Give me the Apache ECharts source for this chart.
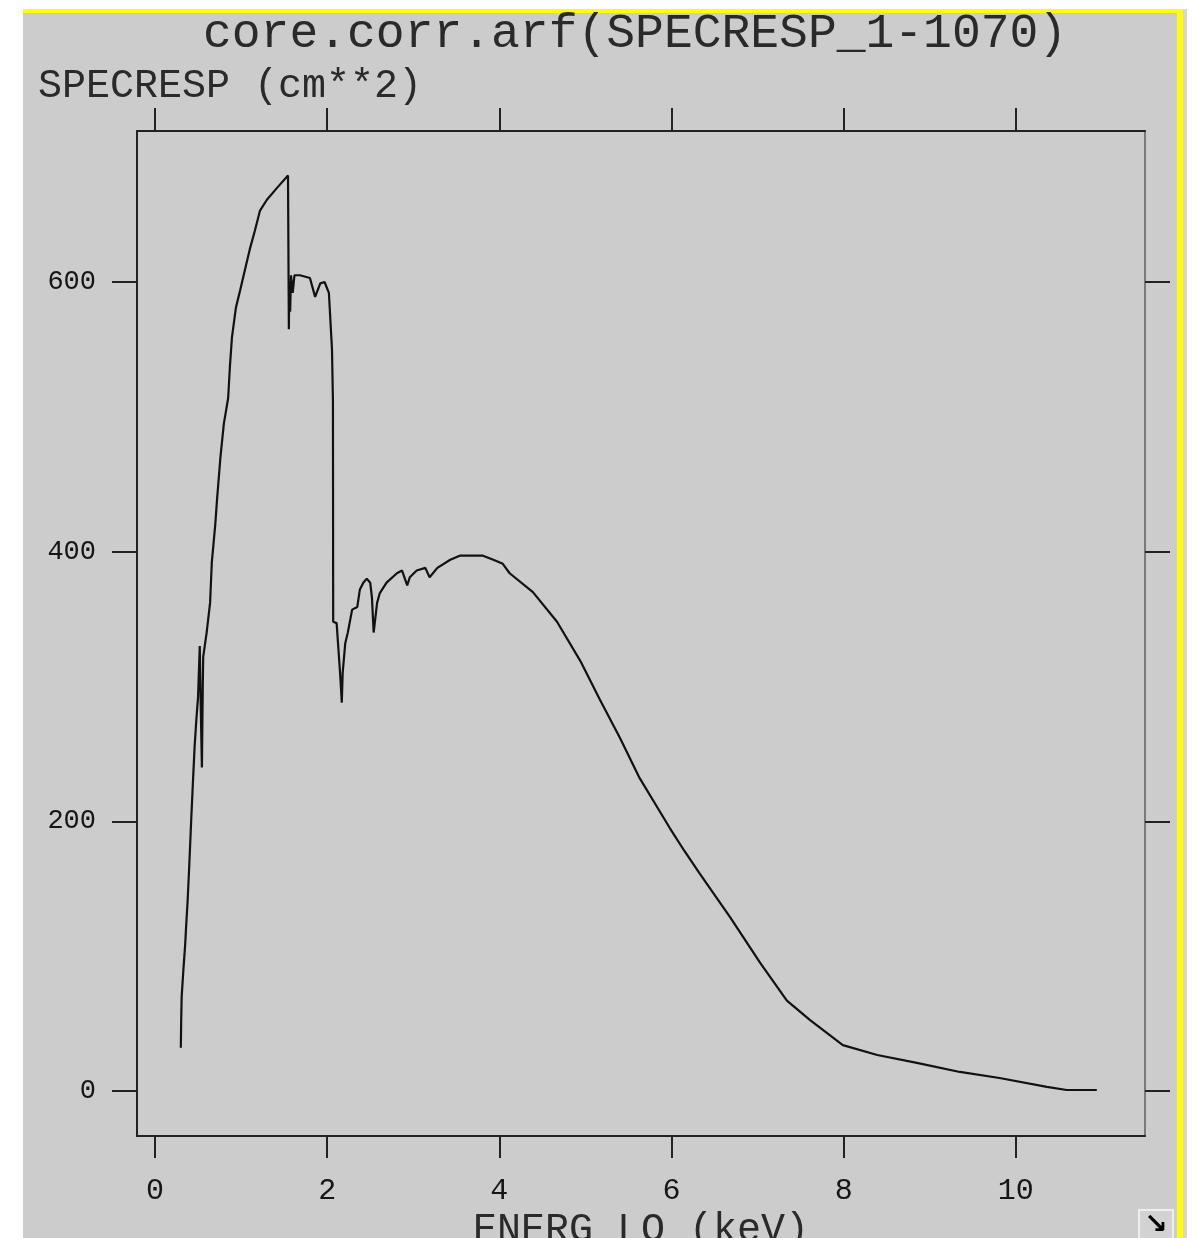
<!DOCTYPE html>
<html>
<head>
<meta charset="utf-8">
<title>core.corr.arf</title>
<script src="https://cdn.jsdelivr.net/npm/echarts@6/dist/echarts.min.js"></script>
<style>
  html, body { margin: 0; padding: 0; background: #ffffff; }
  #chart { width: 1198px; height: 1238px; }
</style>
</head>
<body>
<div id="chart"></div>
<script>
// Effective area curve: energy (keV) vs SPECRESP (cm**2)
const energy = [
  0.30, 0.305, 0.31, 0.33, 0.35, 0.36, 0.38, 0.40, 0.42, 0.44, 0.46, 0.48, 0.50,
  0.52, 0.53, 0.545, 0.555, 0.56, 0.60, 0.64, 0.66, 0.70, 0.72, 0.76, 0.80, 0.85,
  0.87, 0.894, 0.94, 0.99, 1.045, 1.10, 1.16, 1.22, 1.30, 1.42, 1.545, 1.55,
  1.555, 1.56, 1.57, 1.58, 1.60, 1.62, 1.684, 1.80, 1.86, 1.92, 1.97, 2.02,
  2.056, 2.067, 2.07, 2.11, 2.125, 2.15, 2.17, 2.18, 2.21, 2.24, 2.29, 2.35,
  2.38, 2.42, 2.46, 2.50, 2.52, 2.54, 2.58, 2.61, 2.69, 2.81, 2.87, 2.93, 2.96,
  3.04, 3.14, 3.19, 3.28, 3.43, 3.54, 3.81, 3.93, 4.04, 4.12, 4.39, 4.67, 4.94,
  5.17, 5.40, 5.63, 5.98, 6.15, 6.33, 6.68, 7.03, 7.34, 7.61, 7.99, 8.39, 8.85,
  9.35, 9.81, 10.36, 10.59, 10.94
];
const specresp = [
  32, 55, 70, 90, 108, 120, 142, 170, 200, 228, 255, 275, 292,
  330, 290, 240, 300, 322, 340, 362, 392, 420, 438, 470, 495, 514,
  537, 559, 581, 594, 609, 624, 638, 653, 661, 670, 679, 680,
  565, 600, 578, 605, 592, 605, 605, 603, 589, 599, 600, 592,
  550, 512, 348, 347, 333, 310, 288, 310, 332, 340, 357, 359,
  372, 377, 380, 377, 366, 340, 362, 369, 377, 384, 386, 375, 381,
  386, 388, 381, 388, 394, 397, 397, 394, 391, 384, 370, 348, 319,
  290, 262, 232, 195, 178, 161, 129, 95, 67, 52.5, 34, 26.7, 20.8,
  14.1, 9.6, 3, 0.7, 0.7
];

const xTicks = [0, 2, 4, 6, 8, 10];
const yTicks = [0, 200, 400, 600];

const titleText = 'core.corr.arf(SPECRESP_1-1070)';
const yTitle = 'SPECRESP (cm**2)';
const xTitle = 'ENERG_LO (keV)';

const MONO = '"Liberation Mono", "DejaVu Sans Mono", monospace';
const INK = '#151515';

const points = energy.map((e, i) => [e, specresp[i]]);

const chart = echarts.init(document.getElementById('chart'), null, { renderer: 'canvas' });

const xRange = { min: -0.209, max: 11.5 };
const yRange = { min: -33.4, max: 712 };

chart.setOption({
  backgroundColor: '#ffffff',
  animation: false,
  graphic: [
    { type: 'rect', z: -10, shape: { x: 23, y: 13, width: 1154, height: 1225 }, style: { fill: '#cccccc' } },
    { type: 'rect', z: -9, shape: { x: 23, y: 9, width: 1160, height: 4 }, style: { fill: '#ffff00' } },
    { type: 'rect', z: -9, shape: { x: 1177, y: 9, width: 6, height: 1229 }, style: { fill: '#ffff00' } },
    { type: 'rect', z: -9, shape: { x: 1183, y: 9, width: 4, height: 1229 }, style: { fill: '#d6d6d6' } },
    {
      type: 'group', left: 1138, top: 1209, z: 5,
      children: [
        { type: 'rect', shape: { x: 0, y: 0, width: 34, height: 30 }, style: { fill: '#d2d2d2', stroke: '#eeeeee', lineWidth: 2 } },
        { type: 'text', x: 17, y: 16, style: { text: '\u2198', fill: '#000', font: 'bold 28px "DejaVu Sans"', align: 'center', verticalAlign: 'middle' } }
      ]
    }
  ],
  title: [
    {
      text: titleText, left: 203, top: 10, padding: 0,
      textStyle: { fontFamily: MONO, fontSize: 48, fontWeight: 'normal', color: '#2a2a2a' }
    },
    {
      text: yTitle, left: 38, top: 66, padding: 0,
      textStyle: { fontFamily: MONO, fontSize: 40, fontWeight: 'normal', color: '#2a2a2a' }
    }
  ],
  grid: { left: 137, top: 131, width: 1008, height: 1005, show: false, containLabel: false, outerBoundsMode: 'none' },
  xAxis: [
    {
      type: 'value', position: 'bottom', min: xRange.min, max: xRange.max,
      axisLine: { show: true, onZero: false, lineStyle: { color: '#222', width: 2 } },
      axisTick: { show: true, customValues: xTicks, length: 22, lineStyle: { color: '#222', width: 2 } },
      axisLabel: { customValues: xTicks, margin: 40, fontFamily: MONO, fontSize: 30, color: INK },
      splitLine: { show: false },
      name: xTitle, nameLocation: 'middle', nameGap: 72,
      nameTextStyle: { fontFamily: MONO, fontSize: 40, color: '#2a2a2a' }
    },
    {
      type: 'value', position: 'top', min: xRange.min, max: xRange.max,
      axisLine: { show: true, onZero: false, lineStyle: { color: '#222', width: 2 } },
      axisTick: { show: true, customValues: xTicks, length: 23, lineStyle: { color: '#222', width: 2 } },
      axisLabel: { show: false },
      splitLine: { show: false }
    }
  ],
  yAxis: [
    {
      type: 'value', position: 'left', min: yRange.min, max: yRange.max,
      axisLine: { show: true, onZero: false, lineStyle: { color: '#222', width: 2 } },
      axisTick: { show: true, customValues: yTicks, length: 25, lineStyle: { color: '#222', width: 2 } },
      axisLabel: { customValues: yTicks, margin: 41, fontFamily: MONO, fontSize: 27, color: INK },
      splitLine: { show: false }
    },
    {
      type: 'value', position: 'right', min: yRange.min, max: yRange.max,
      axisLine: { show: true, onZero: false, lineStyle: { color: '#7a7a7a', width: 2 } },
      axisTick: { show: true, customValues: yTicks, length: 25, lineStyle: { color: '#222', width: 2 } },
      axisLabel: { show: false },
      splitLine: { show: false }
    }
  ],
  series: [
    {
      type: 'line', xAxisIndex: 0, yAxisIndex: 0,
      data: points, showSymbol: false, symbol: 'none',
      lineStyle: { color: '#111', width: 2.2 },
      clip: true
    }
  ]
});
</script>
</body>
</html>
